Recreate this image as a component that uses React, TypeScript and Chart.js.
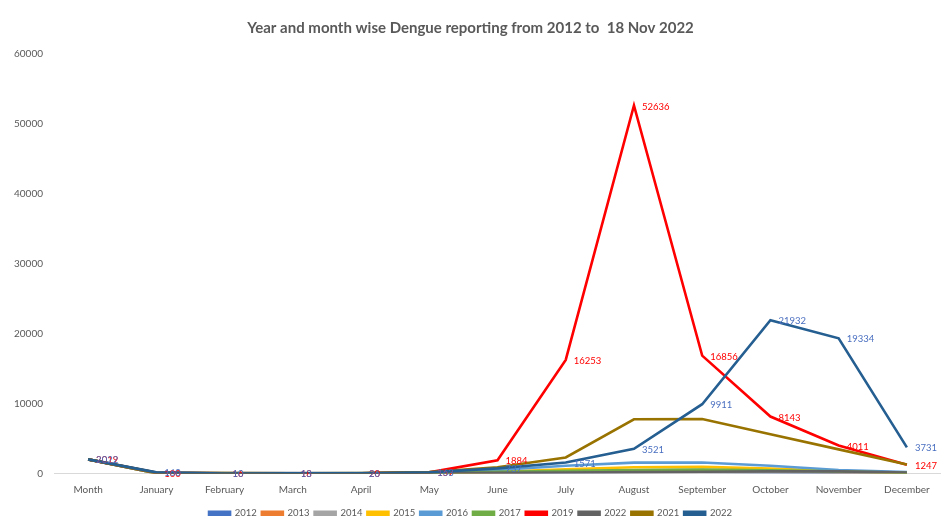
import React, { useEffect, useRef } from "react";
import { Chart, registerables } from "chart.js";

Chart.register(...registerables);

const categories = ["Month", "January", "February", "March", "April", "May", "June", "July", "August", "September", "October", "November", "December"];

const seriesNames = ["2012", "2013", "2014", "2015", "2016", "2017", "2019", "2022", "2021", "2022"];
const seriesColors = ["#4472C4", "#ED7D31", "#A5A5A5", "#FFC000", "#5B9BD5", "#70AD47", "#FF0000", "#636363", "#997300", "#255E91"];

const v2012 = [2012, 30, 20, 20, 25, 40, 100, 200, 250, 250, 200, 120, 60];
const v2013 = [2013, 40, 20, 20, 30, 60, 150, 300, 400, 400, 350, 200, 80];
const v2014 = [2014, 30, 20, 20, 20, 40, 80, 150, 200, 200, 180, 120, 60];
const v2015 = [2015, 40, 30, 30, 40, 80, 250, 600, 900, 950, 700, 350, 120];
const v2016 = [2016, 60, 40, 40, 60, 150, 500, 1100, 1550, 1580, 1100, 500, 200];
const v2017 = [2017, 50, 30, 30, 40, 100, 250, 400, 500, 550, 450, 300, 100];
const v2019 = [2019, 100, 16, 18, 20, 157, 1884, 16253, 52636, 16856, 8143, 4011, 1247];
const v2022a = [2022, 150, 60, 50, 40, 60, 100, 150, 200, 250, 300, 300, 150];
const v2021 = [2021, 100, 50, 40, 50, 200, 900, 2300, 7750, 7800, 5600, 3450, 1290];
const v2022 = [2022, 160, 10, 13, 26, 163, 737, 1571, 3521, 9911, 21932, 19334, 3731];

const seriesValues = [v2012, v2013, v2014, v2015, v2016, v2017, v2019, v2022a, v2021, v2022];
// which series carry data labels, and the label colour
const labelColors: (string | null)[] = [null, null, null, null, null, null, "#FF0000", null, null, "#4A6FC0"];

const yTicks = [0, 10000, 20000, 30000, 40000, 50000, 60000];

const TEXT = "#595959";
const FONT = "Lato, 'Open Sans', sans-serif";

const labelPlugin = {
  id: "pointLabels",
  afterDatasetsDraw(chart: any) {
    const ctx = chart.ctx;
    ctx.save();
    ctx.font = `9.5px ${FONT}`;
    ctx.textAlign = "left";
    ctx.textBaseline = "middle";
    chart.data.datasets.forEach((ds: any, i: number) => {
      const col = labelColors[i];
      if (!col) return;
      const meta = chart.getDatasetMeta(i);
      ctx.fillStyle = col;
      meta.data.forEach((pt: any, j: number) => {
        ctx.fillText(String(ds.data[j]), pt.x + 8, pt.y + 1);
      });
    });
    ctx.restore();
  },
};

export default function App() {
  const ref = useRef<HTMLCanvasElement | null>(null);
  useEffect(() => {
    document.body.style.margin = "0";
    const chart = new Chart(ref.current!, {
      type: "line",
      data: {
        labels: categories,
        datasets: seriesNames.map((name, i) => ({
          label: name,
          data: seriesValues[i],
          borderColor: seriesColors[i],
          backgroundColor: seriesColors[i],
          borderWidth: 2.6,
          pointRadius: 0,
          tension: 0,
          order: seriesNames.length - i,
        })),
      },
      options: {
        responsive: false,
        animation: false,
        layout: { padding: { left: 0, right: 2, top: 0, bottom: 1 } },
        plugins: {
          title: {
            display: true,
            text: "Year and month wise Dengue reporting from 2012 to  18 Nov 2022",
            color: TEXT,
            font: { family: FONT, size: 15, weight: "bold" },
            padding: { top: 19, bottom: 17 },
          },
          legend: {
            position: "bottom",
            labels: {
              boxWidth: 21,
              boxHeight: 3,
              color: TEXT,
              font: { family: FONT, size: 9.5 },
              padding: 5,
              sort: (a: any, b: any) => a.datasetIndex - b.datasetIndex,
            },
          },
          tooltip: { enabled: false },
        },
        scales: {
          x: {
            offset: true,
            grid: { display: false, drawTicks: false },
            border: { display: false },
            ticks: { color: TEXT, font: { family: FONT, size: 10 }, padding: 10, maxRotation: 0, autoSkip: false },
            afterFit: (s: any) => { s.height = 30; },
          },
          y: {
            min: 0,
            max: 60000,
            afterBuildTicks: (s: any) => { s.ticks = yTicks.map((v) => ({ value: v })); },
            grid: {
              drawTicks: false,
              color: (c: any) => (c.tick && c.tick.value === 0 ? "#D9D9D9" : "rgba(0,0,0,0)"),
            },
            border: { display: false },
            ticks: { color: TEXT, font: { family: FONT, size: 10 }, padding: 11, callback: (v: any) => String(v) },
            afterFit: (s: any) => { s.width = 54; },
          },
        },
      },
      plugins: [labelPlugin],
    } as any);
    return () => chart.destroy();
  }, []);
  return (
    <div style={{ position: "fixed", left: 0, top: 0, width: 943, height: 529, background: "#fff" }}>
      <canvas ref={ref} width={943} height={529} />
    </div>
  );
}
